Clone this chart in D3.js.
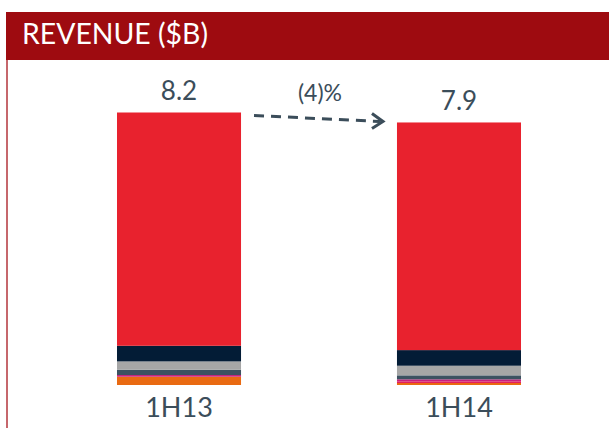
<!DOCTYPE html>
<html>
<head>
<meta charset="utf-8">
<script src="https://cdn.jsdelivr.net/npm/d3@7"></script>
<style>
  body { margin: 0; background: #fff; }
  svg { display: block; font-family: Lato, "Open Sans", sans-serif; }
</style>
</head>
<body>
<div id="chart"></div>
<script>
// data
let periods = ["1H13", "1H14"];
let totalLabels = ["8.2", "7.9"];
let changeLabel = "(4)%";
// segments, bottom to top
let seriesNames = ["orange", "pink", "magenta", "slate", "gray", "navy", "red"];
let seriesColors = ["#e96a12", "#e3205c", "#c8207e", "#3c5261", "#a6a6a6", "#031c36", "#e8222e"];
let values1H13 = [0.25, 0.00, 0.05, 0.16, 0.25, 0.47, 7.02];
let values1H14 = [0.06, 0.05, 0.06, 0.12, 0.29, 0.47, 6.85];

let width = 609, height = 428;
let textColor = "#3b4d5a";
let svg = d3.select("#chart").append("svg")
    .attr("width", width)
    .attr("height", height);

// header band + frame
svg.append("line")
    .attr("x1", 7).attr("x2", 7)
    .attr("y1", 12).attr("y2", height)
    .attr("stroke", "#b3343b")
    .attr("stroke-width", 1.5);
svg.append("rect")
    .attr("x", 6).attr("y", 12)
    .attr("width", width - 6).attr("height", 48)
    .attr("fill", "#9e0b10");
svg.append("text")
    .attr("x", 22).attr("y", 44)
    .attr("fill", "#fff")
    .attr("font-size", 28)
    .attr("textLength", 186)
    .attr("lengthAdjust", "spacingAndGlyphs")
    .text("REVENUE ($B)");

// scales
let x = d3.scaleBand()
    .domain(periods)
    .range([61, 577])
    .paddingInner(0.557)
    .paddingOuter(0.2);
let y = d3.scaleLinear()
    .domain([0, 8.2])
    .range([385, 112.5]);

let rows = periods.map((p, i) => {
    let row = {period: p};
    let vals = i === 0 ? values1H13 : values1H14;
    seriesNames.forEach((s, j) => row[s] = vals[j]);
    return row;
});
let stacked = d3.stack().keys(seriesNames)(rows);

svg.append("g").selectAll("g")
    .data(stacked)
    .join("g")
    .attr("fill", (d, i) => seriesColors[i])
    .selectAll("rect")
    .data(d => d)
    .join("rect")
    .attr("x", d => x(d.data.period))
    .attr("width", x.bandwidth())
    .attr("y", d => y(d[1]))
    .attr("height", d => y(d[0]) - y(d[1]));

// totals on top
let topLayer = stacked[stacked.length - 1];
svg.append("g").selectAll("text")
    .data(topLayer)
    .join("text")
    .attr("x", d => x(d.data.period) + x.bandwidth() / 2)
    .attr("y", d => y(d[1]) - 12.5)
    .attr("text-anchor", "middle")
    .attr("font-size", 26)
    .attr("fill", textColor)
    .text((d, i) => totalLabels[i]);

// category labels
let xAxis = d3.axisBottom(x).tickSize(0).tickPadding(0);
let xg = svg.append("g")
    .attr("transform", "translate(0,385)")
    .call(xAxis);
xg.select(".domain").remove();
xg.selectAll("text")
    .attr("font-size", 27)
    .attr("font-family", "Lato, 'Open Sans', sans-serif")
    .attr("fill", textColor)
    .attr("dy", 0)
    .attr("y", 32);

// change arrow
let ax1 = x(periods[0]) + x.bandwidth() + 13;
let ax2 = x(periods[1]) - 14;
let ay1 = y(topLayer[0][1]) + 3;
let ay2 = y(topLayer[1][1]) - 1;
svg.append("line")
    .attr("x1", ax1).attr("y1", ay1)
    .attr("x2", ax2 - 3).attr("y2", ay2)
    .attr("stroke", textColor)
    .attr("stroke-width", 3)
    .attr("stroke-dasharray", "10,7");
svg.append("path")
    .attr("d", `M${ax2 - 11},${ay2 - 8} L${ax2},${ay2} L${ax2 - 11},${ay2 + 7}`)
    .attr("fill", "none")
    .attr("stroke", textColor)
    .attr("stroke-width", 3);
svg.append("text")
    .attr("x", 320)
    .attr("y", 101)
    .attr("text-anchor", "middle")
    .attr("font-size", 23)
    .attr("fill", textColor)
    .text(changeLabel);
</script>
</body>
</html>
